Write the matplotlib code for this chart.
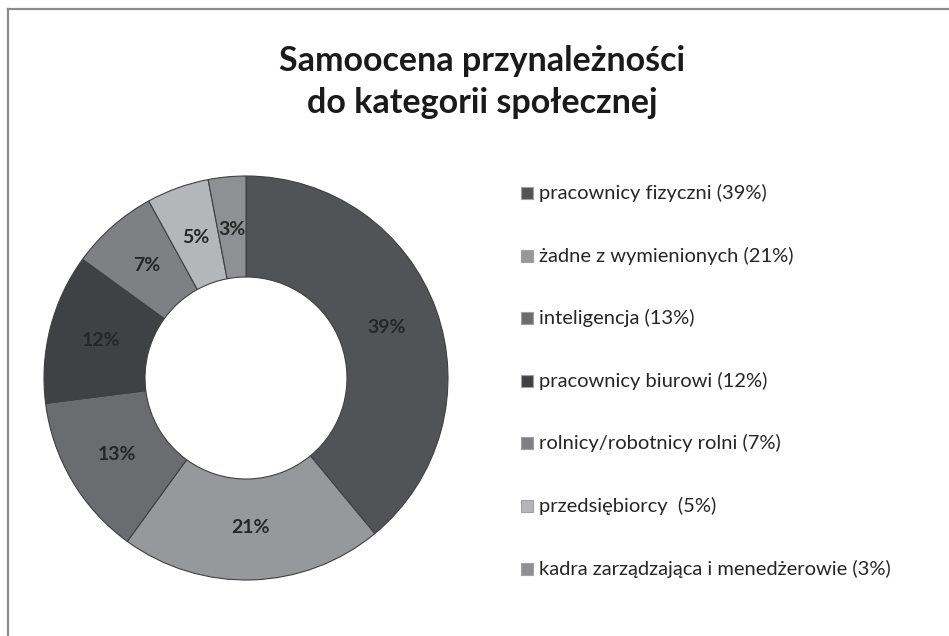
import matplotlib.pyplot as plt
from matplotlib.patches import Rectangle
from matplotlib.lines import Line2D
import numpy as np

categories = ['pracownicy fizyczni', 'żadne z wymienionych', 'inteligencja',
              'pracownicy biurowi', 'rolnicy/robotnicy rolni', 'przedsiębiorcy ',
              'kadra zarządzająca i menedżerowie']
shares = [39, 21, 13, 12, 7, 5, 3]
colors = ['#525357', '#97989c', '#6b6c70', '#3f4145', '#7f8084', '#b5b6ba', '#8f9094']
title = 'Samoocena przynależności\ndo kategorii społecznej'

plt.rcParams['font.family'] = ['Lato', 'DejaVu Sans']

W, H = 949, 636
fig = plt.figure(figsize=(W / 100, H / 100), dpi=100)

# donut, centre (246, 378) px, radius 202 px
cx, cy, r = 246, 378, 202
ax = fig.add_axes([(cx - r) / W, (H - cy - r) / H, 2 * r / W, 2 * r / H])
wedges, _ = ax.pie(shares, colors=colors, startangle=90, counterclock=False,
                   radius=1, wedgeprops=dict(width=0.5, edgecolor='#404040', linewidth=0.8))
for w, s in zip(wedges, shares):
    ang = np.deg2rad((w.theta1 + w.theta2) / 2)
    ax.text(0.74 * np.cos(ang), 0.74 * np.sin(ang), f'{s}%', ha='center', va='center',
            fontsize=14, fontweight='bold', color='#262626')
ax.set_xlim(-1, 1)
ax.set_ylim(-1, 1)
ax.set_aspect('equal')
ax.axis('off')

fig.text(482 / W, 1 - 82 / H, title, ha='center', va='center', fontsize=24.5,
         fontweight='bold', color='#1a1a1a', linespacing=1.42)

# legend
top, step = 193, 62.6
for i, (cat, s, c) in enumerate(zip(categories, shares, colors)):
    y = top + i * step
    fig.patches.append(Rectangle((521 / W, 1 - (y + 6) / H), 12 / W, 12 / H,
                                 transform=fig.transFigure, facecolor=c,
                                 edgecolor='#a0a0a0', linewidth=0.8))
    fig.text(539 / W, 1 - y / H, f'{cat} ({s}%)', ha='left', va='center',
             fontsize=14.5, color='#262626')

# frame (cropped at right and bottom)
fig.add_artist(Line2D([7.5 / W, 7.5 / W], [0, 1 - 8.5 / H], color='#8c8c8c', lw=1.6))
fig.add_artist(Line2D([7.5 / W, 1], [1 - 8.5 / H, 1 - 8.5 / H], color='#8c8c8c', lw=1.6))

fig.savefig('out.png', dpi=100)
